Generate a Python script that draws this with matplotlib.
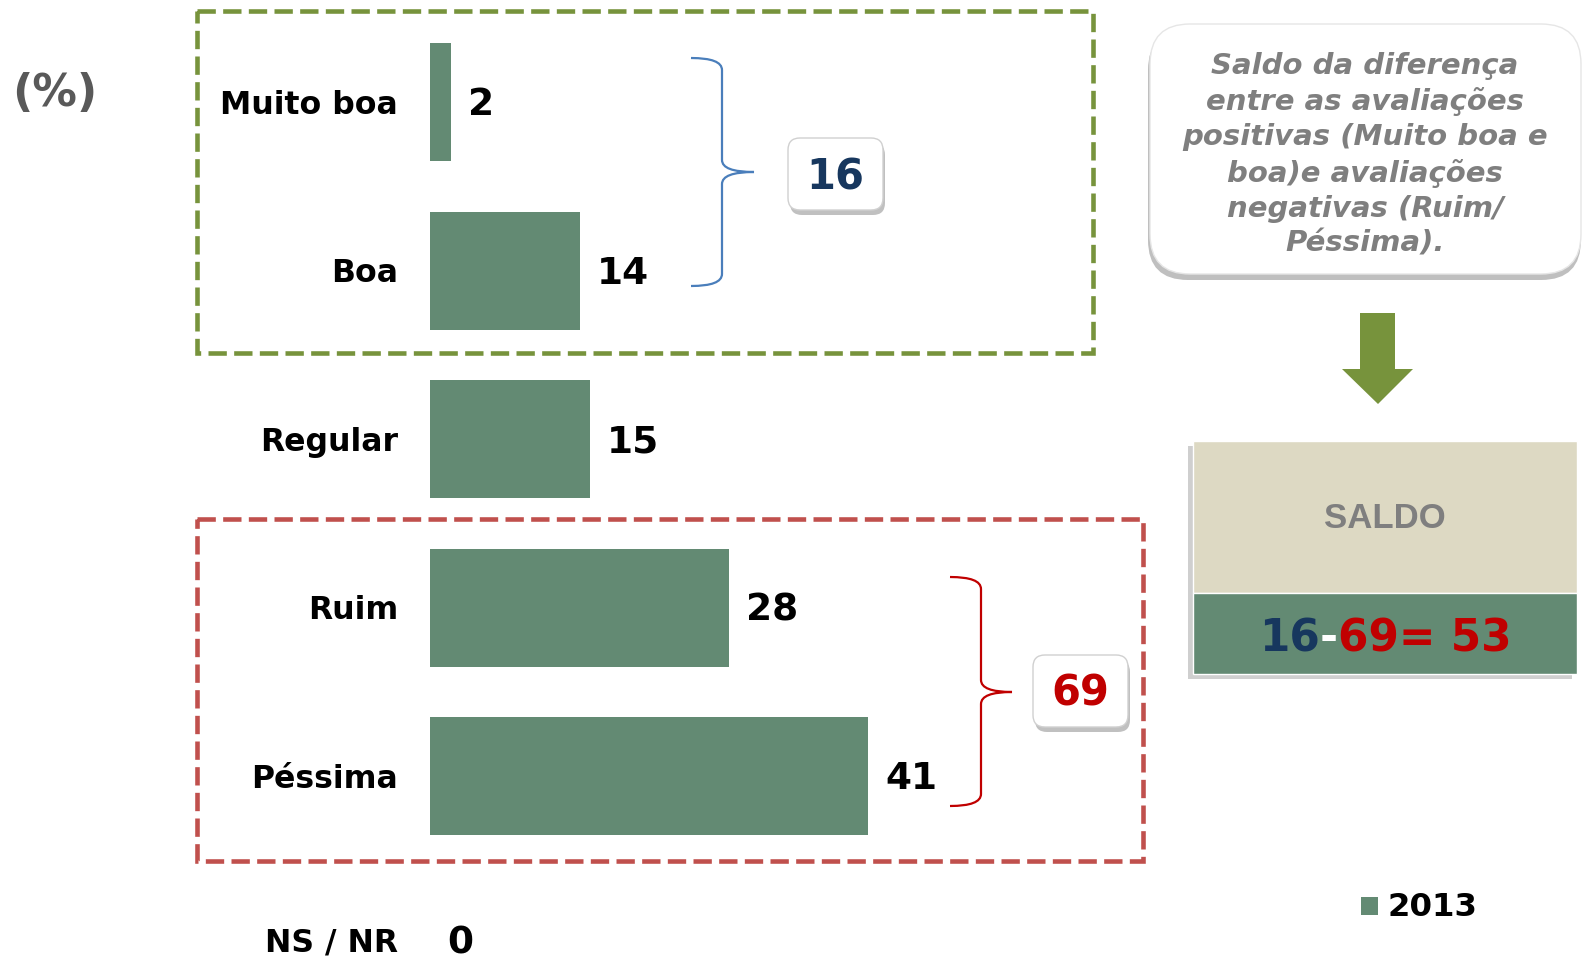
import matplotlib
matplotlib.use("Agg")
import matplotlib.pyplot as plt
from matplotlib.patches import Rectangle, FancyBboxPatch, Polygon, PathPatch
from matplotlib.path import Path

# ---- data ----
categories = ["Muito boa", "Boa", "Regular", "Ruim", "Péssima", "NS / NR"]
values = [2, 14, 15, 28, 41, 0]
series_name = "2013"
positive_total = 16
negative_total = 69
saldo = 53

BAR = "#638A73"
GREEN = "#77933C"
RED_BOX = "#C0504D"
DARK_BLUE = "#17375E"
RED = "#C00000"
GRAY = "#7F7F7F"

W, H = 1585, 961
fig = plt.figure(figsize=(W / 100, H / 100), dpi=100)

# bar axes: x=0 at pixel 430, 10.68 px per unit
ax = fig.add_axes([430 / W, 0, 1068 / W, 1])
ax.set_xlim(0, 100)
ax.set_ylim(5 + 16 * 5 / 843, -102 * 5 / 843)
ypos = list(range(len(categories)))
ax.barh(ypos, values, height=0.70, color=BAR)
for y, v, c in zip(ypos, values, categories):
    dy = 0.018 if y < len(categories) - 1 else -0.01  # last row sits on the edge
    ax.text(v + 1.6, y + dy, str(v), ha="left", va="center", fontsize=27,
            fontweight="bold", color="black")
    ax.text(-3.0, y + dy, c, ha="right", va="center", fontsize=22.7,
            fontweight="bold", color="black", clip_on=False)
ax.axis("off")

# overlay in pixel coords
ov = fig.add_axes([0, 0, 1, 1])
ov.set_xlim(0, W)
ov.set_ylim(H, 0)
ov.axis("off")

ov.text(12, 94, "(%)", ha="left", va="center", fontsize=32,
        fontweight="bold", color="#595959")

# dashed group boxes
ov.add_patch(Rectangle((197, 11), 896, 342, fill=False, edgecolor=GREEN,
                       linewidth=3.3, linestyle=(0, (4.0, 1.6))))
ov.add_patch(Rectangle((197, 519), 946, 342, fill=False, edgecolor=RED_BOX,
                       linewidth=3.3, linestyle=(0, (4.0, 1.6))))


def brace(x0, xm, x1, yt, ym, yb, color):
    r = 12
    verts = [(x0, yt), (xm, yt), (xm, yt + r), (xm, ym - r), (xm, ym), (x1, ym),
             (xm, ym), (xm, ym + r), (xm, yb - r), (xm, yb), (x0, yb)]
    codes = [Path.MOVETO, Path.CURVE3, Path.CURVE3, Path.LINETO, Path.CURVE3,
             Path.CURVE3, Path.CURVE3, Path.CURVE3, Path.LINETO, Path.CURVE3,
             Path.CURVE3]
    ov.add_patch(PathPatch(Path(verts, codes), fill=False, edgecolor=color,
                           linewidth=1.6))


brace(691, 722, 754, 58, 172, 286, "#4A7EBB")
brace(950, 981, 1012, 577, 692, 806, RED)


def label_box(x, y, w, h, text, color):
    ov.add_patch(FancyBboxPatch((x + 2, y + 5), w, h,
                                boxstyle="round,pad=0,rounding_size=12",
                                facecolor="#A6A6A6", edgecolor="none", alpha=0.7))
    ov.add_patch(FancyBboxPatch((x, y), w, h,
                                boxstyle="round,pad=0,rounding_size=12",
                                facecolor="white", edgecolor="#D0D0D0", linewidth=1))
    ov.text(x + w / 2, y + h / 2 + 3, text, ha="center", va="center",
            fontsize=30, fontweight="bold", color=color)


label_box(788, 138, 95, 72, str(positive_total), DARK_BLUE)
label_box(1033, 655, 95, 72, str(negative_total), RED)

# callout
ov.add_patch(FancyBboxPatch((1148, 30), 433, 250,
                            boxstyle="round,pad=0,rounding_size=40",
                            facecolor="#BFBFBF", edgecolor="none"))
ov.add_patch(FancyBboxPatch((1150, 24), 431, 250,
                            boxstyle="round,pad=0,rounding_size=40",
                            facecolor="white", edgecolor="#E6E6E6", linewidth=1))
callout = ("Saldo da diferença\nentre as avaliações\npositivas (Muito boa e\n"
           "boa)e avaliações\nnegativas (Ruim/\nPéssima).")
ov.text(1365, 155, callout, ha="center", va="center", fontsize=21,
        fontweight="bold", style="italic", color=GRAY, linespacing=1.32)

# arrow
ov.add_patch(Polygon([(1360, 313), (1395, 313), (1395, 369), (1413, 369),
                      (1378, 404), (1342, 369), (1360, 369)],
                     closed=True, facecolor=GREEN, edgecolor="none"))

# saldo table
ov.add_patch(Rectangle((1188, 446), 384, 233, facecolor="#A0A0A0",
                       edgecolor="none", alpha=0.5))
ov.add_patch(Rectangle((1193, 441), 384, 152, facecolor="#DDD9C3",
                       edgecolor="white", linewidth=1))
ov.add_patch(Rectangle((1193, 593), 384, 81, facecolor=BAR,
                       edgecolor="white", linewidth=1))
ov.text(1385, 518, "SALDO", ha="center", va="center", fontsize=25,
        fontweight="bold", color=GRAY, family="Liberation Sans")

t1 = ov.text(1259, 651, str(positive_total), ha="left", va="baseline",
             fontsize=31.5, fontweight="bold", color=DARK_BLUE)
t2 = ov.annotate("-", xy=(1, 0), xycoords=t1, ha="left", va="bottom",
                 fontsize=31.5, fontweight="bold", color="white")
t3 = ov.annotate(f"{negative_total}= {saldo}", xy=(1, 0), xycoords=t2,
                 ha="left", va="bottom", fontsize=31.5, fontweight="bold", color=RED)

# legend
ov.add_patch(Rectangle((1361, 897), 17, 18, facecolor=BAR, edgecolor="none"))
ov.text(1388, 907, series_name, ha="left", va="center", fontsize=23.3,
        fontweight="bold", color="black")

fig.savefig("out.png", dpi=100)
